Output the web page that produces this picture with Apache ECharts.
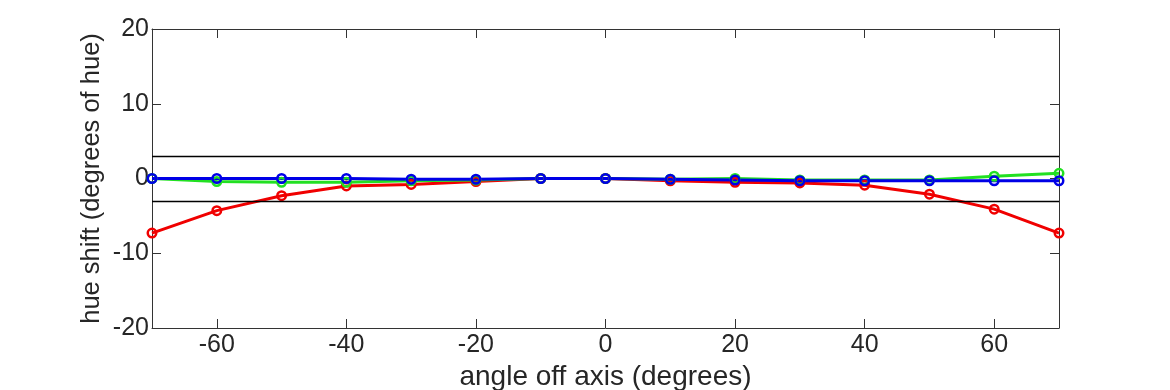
<!DOCTYPE html>
<html>
<head>
<meta charset="utf-8">
<script src="https://cdn.jsdelivr.net/npm/echarts@6/dist/echarts.min.js"></script>
<style>
html,body{margin:0;padding:0;background:#fff;}
#chart{width:1170px;height:390px;}
</style>
</head>
<body>
<div id="chart"></div>
<script>
const angles = [-70, -60, -50, -40, -30, -20, -10, 0, 10, 20, 30, 40, 50, 60, 70];
const redShift = [-7.3, -4.3, -2.3, -1.0, -0.8, -0.4, 0, 0, -0.3, -0.5, -0.6, -0.9, -2.1, -4.1, -7.3];
const greenShift = [0, -0.4, -0.5, -0.5, -0.3, -0.2, 0, 0, -0.1, 0.0, -0.2, -0.2, -0.2, 0.3, 0.7];
const blueShift = [0, 0, 0, 0, -0.1, -0.1, 0, 0, -0.1, -0.2, -0.3, -0.3, -0.3, -0.3, -0.3];
const xTicks = [-60, -40, -20, 0, 20, 40, 60];
const yTicks = [-20, -10, 0, 10, 20];
const refLimits = [3, -3];

const axisColor = '#333333';
const font = '"Liberation Sans", Arial, Helvetica, sans-serif';

function pairs(vals) { return angles.map((a, i) => [a, vals[i]]); }

function lineSeries(name, vals, color) {
  return {
    name: name, type: 'line', data: pairs(vals),
    symbol: 'circle', symbolSize: 8.5, showSymbol: true,
    lineStyle: { color: color, width: 3 },
    itemStyle: { color: 'rgba(255,255,255,0)', borderColor: color, borderWidth: 2.5 },
    animation: false, z: 3
  };
}

const chart = echarts.init(document.getElementById('chart'), null, { renderer: 'canvas' });
chart.setOption({
  animation: false,
  backgroundColor: '#ffffff',
  grid: { left: 152, right: 111, top: 29, bottom: 62, containLabel: false, outerBoundsMode: 'none' },
  xAxis: [{
    type: 'value', min: -70, max: 70,
    name: 'angle off axis (degrees)', nameLocation: 'middle', nameGap: 35, nameMoveOverlap: false,
    nameTextStyle: { fontFamily: font, fontSize: 28, color: '#262626' },
    axisLine: { show: true, onZero: false, lineStyle: { color: axisColor, width: 1 } },
    axisTick: { show: true, inside: true, length: 9, customValues: xTicks, lineStyle: { color: axisColor } },
    axisLabel: { show: true, customValues: xTicks, fontFamily: font, fontSize: 25, color: '#262626', margin: 5 },
    splitLine: { show: false }
  }, {
    type: 'value', min: -70, max: 70, position: 'top',
    axisLine: { show: true, onZero: false, lineStyle: { color: axisColor, width: 1 } },
    axisTick: { show: true, inside: true, length: 9, customValues: xTicks, lineStyle: { color: axisColor } },
    axisLabel: { show: false }, splitLine: { show: false }
  }],
  yAxis: [{
    type: 'value', min: -20, max: 20, interval: 10,
    name: 'hue shift (degrees of hue)', nameLocation: 'middle', nameGap: 47, nameMoveOverlap: false,
    nameTextStyle: { fontFamily: font, fontSize: 25.5, color: '#262626' },
    axisLine: { show: true, onZero: false, lineStyle: { color: axisColor, width: 1 } },
    axisTick: { show: true, inside: true, length: 9, lineStyle: { color: axisColor } },
    axisLabel: { show: true, fontFamily: font, fontSize: 25, color: '#262626', margin: 3 },
    splitLine: { show: false }
  }, {
    type: 'value', min: -20, max: 20, interval: 10, position: 'right',
    axisLine: { show: true, onZero: false, lineStyle: { color: axisColor, width: 1 } },
    axisTick: { show: true, inside: true, length: 9, lineStyle: { color: axisColor } },
    axisLabel: { show: false }, splitLine: { show: false }
  }],
  series: [
    {
      name: 'limits', type: 'line', data: [], symbol: 'none', z: 1,
      markLine: {
        silent: true, symbol: 'none', animation: false,
        label: { show: false },
        lineStyle: { color: '#000000', width: 1.3, type: 'solid' },
        data: refLimits.map(v => ({ yAxis: v }))
      }
    },
    lineSeries('red', redShift, '#f00000'),
    lineSeries('green', greenShift, '#22e022'),
    lineSeries('blue', blueShift, '#0000e6')
  ]
});
</script>
</body>
</html>
